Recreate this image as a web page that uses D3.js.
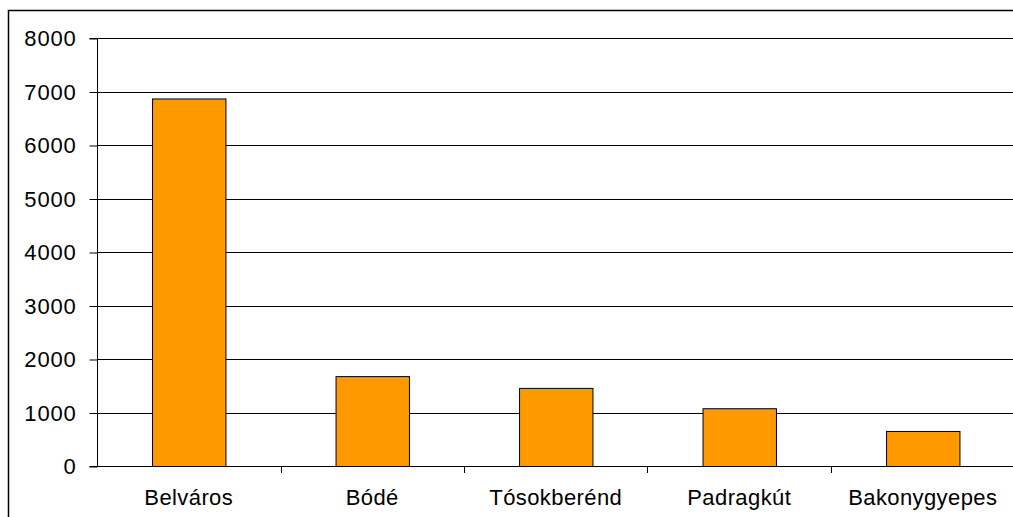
<!DOCTYPE html>
<html><head><meta charset="utf-8">
<script src="https://cdn.jsdelivr.net/npm/d3@7/dist/d3.min.js"></script>
<style>
html,body{margin:0;padding:0;background:#fff;overflow:hidden;}
svg{display:block;font-family:"Liberation Sans",Arial,sans-serif;}
</style></head>
<body>
<svg id="chart" width="1013" height="517"></svg>
<script>
const categories = ["Belváros","Bódé","Tósokberénd","Padragkút","Bakonygyepes"];
const values = [6870, 1680, 1460, 1080, 655];
const yTicks = [0,1000,2000,3000,4000,5000,6000,7000,8000];

(function(){
const svg = d3.select("#chart");
const pLeft = 97, pRight = 1014.5, pTop = 38, pBottom = 466;

svg.append("rect").attr("x",8.5).attr("y",10.5).attr("width",1100).attr("height",600)
  .attr("fill","#fff").attr("stroke","#000").attr("stroke-width",1.5);

const x = d3.scaleBand().domain(categories).range([pLeft,pRight]).paddingInner(0.6).paddingOuter(0.3);
const y = d3.scaleLinear().domain([0,8000]).range([pBottom,pTop]);

svg.append("g").selectAll("line").data(yTicks.filter(d=>d>0)).join("line")
  .attr("x1",pLeft).attr("x2",1013)
  .attr("y1",d=>Math.round(y(d))+0.5).attr("y2",d=>Math.round(y(d))+0.5)
  .attr("stroke","#000").attr("stroke-width",1);

svg.append("g").selectAll("rect").data(values).join("rect")
  .attr("x",(d,i)=>x(categories[i])+0.5)
  .attr("y",d=>y(d)+0.5)
  .attr("width",x.bandwidth())
  .attr("height",d=>y(0)-y(d))
  .attr("fill","#ff9900").attr("stroke","#000").attr("stroke-width",1);

const yAxis = d3.axisLeft(y).tickValues(yTicks).tickSize(8).tickPadding(13).tickFormat(d3.format("d"));
const ya = svg.append("g").attr("transform",`translate(${pLeft+0.5},0.5)`).call(yAxis);
ya.attr("font-size",null).attr("font-family",null);
ya.select(".domain").attr("stroke","#000").attr("d",`M-8,${pTop}H0V${pBottom}H-8`);
ya.selectAll("text").style("font-size","22px").attr("fill","#000").attr("letter-spacing","0.8px");

const xEdge = d3.scaleLinear().domain([0,categories.length]).range([pLeft,pRight]);
const xa = svg.append("g");
xa.append("line").attr("x1",pLeft).attr("x2",1013).attr("y1",pBottom+0.5).attr("y2",pBottom+0.5).attr("stroke","#000");
xa.selectAll("line.tk").data(d3.range(1,categories.length+1)).join("line").attr("class","tk")
  .attr("x1",d=>Math.round(xEdge(d))+0.5).attr("x2",d=>Math.round(xEdge(d))+0.5)
  .attr("y1",pBottom).attr("y2",pBottom+7).attr("stroke","#000");
xa.selectAll("text").data(categories).join("text")
  .attr("x",d=>x(d)+x.bandwidth()/2).attr("y",505)
  .attr("text-anchor","middle").style("font-size","22px").attr("letter-spacing","0.4px")
  .text(d=>d);
})();
</script>
</body></html>
